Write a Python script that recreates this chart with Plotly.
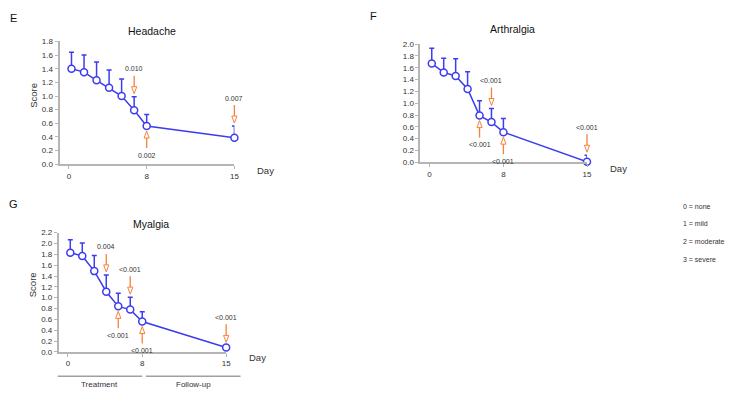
import plotly.graph_objects as go

W, H = 739, 394

# ---------------- data ----------------
visit_x = [1, 2, 3, 4, 5, 6, 7, 14]          # plotting positions of the 8 visits
tick_pos = [0.8, 7, 14]
tick_labels = ["0", "8", "15"]

headache_mean = [1.40, 1.35, 1.23, 1.12, 1.00, 0.79, 0.56, 0.39]
headache_top = [1.64, 1.60, 1.50, 1.38, 1.25, 0.99, 0.73, 0.56]
headache_arrows = [(5, "down", "0.010"), (6, "up", "0.002"), (7, "down", "0.007")]

arthralgia_mean = [1.67, 1.52, 1.46, 1.24, 0.79, 0.68, 0.51, 0.01]
arthralgia_top = [1.93, 1.76, 1.75, 1.53, 1.04, 0.91, 0.74, 0.12]
arthralgia_arrows = [(4, "up", "<0.001"), (5, "down", "<0.001"),
                     (6, "up", "<0.001"), (7, "down", "<0.001")]

myalgia_mean = [1.83, 1.77, 1.49, 1.11, 0.84, 0.78, 0.56, 0.08]
myalgia_top = [2.07, 2.01, 1.78, 1.42, 1.08, 1.01, 0.74, 0.12]
myalgia_arrows = [(3, "down", "0.004"), (4, "up", "<0.001"), (5, "down", "<0.001"),
                  (6, "up", "<0.001"), (7, "down", "<0.001")]

legend_lines = ["0 = none", "1 = mild", "2 = moderate", "3 = severe"]
phase_labels = [("Treatment", -0.05, 7.0), ("Follow-up", 7.3, 15.2)]

# ---------------- style ----------------
BLUE = "#3c3cf0"
ORANGE = "#f5823a"
AXIS = "#b5b5b5"
TXT = "#333333"
FONT = "Arial, Liberation Sans, sans-serif"
XRANGE = [0.05, 14]


def px(xp):
    return xp / W


def py(yp):
    return 1 - yp / H


panels = [
    dict(letter="E", title="Headache", mean=headache_mean, top=headache_top,
         arrows=headache_arrows, ax="", left=60, right=236, top_px=38.3, bot=164,
         ymax=1.8, score=True, letter_xy=(14, 14), title_y=28),
    dict(letter="F", title="Arthralgia", mean=arthralgia_mean, top=arthralgia_top,
         arrows=arthralgia_arrows, ax="2", left=423.3, right=591, top_px=41, bot=162,
         ymax=2.0, score=False, letter_xy=(376, 12), title_y=26),
    dict(letter="G", title="Myalgia", mean=myalgia_mean, top=myalgia_top,
         arrows=myalgia_arrows, ax="3", left=59.3, right=227.7, top_px=234, bot=356,
         ymax=2.2, score=True, letter_xy=(14, 205), title_y=225),
]


def to_paper(p, xv, yv):
    """map data coordinates of a panel to paper coordinates (same linear axes)."""
    x0, x1 = px(p["left"]), px(p["right"])
    y0, y1 = py(p["bot"]), py(p["top_px"])
    xp = x0 + (xv - XRANGE[0]) / (XRANGE[1] - XRANGE[0]) * (x1 - x0)
    yp = y0 + yv / p["ymax"] * (y1 - y0)
    return xp, yp


fig = go.Figure()
shapes = []
annotations = []
layout_axes = {}


def txt(x, y, text, size, color=TXT, **kw):
    d = dict(x=x, y=y, xref="paper", yref="paper", text=text, showarrow=False,
             xanchor="center", yanchor="middle",
             font=dict(size=size, color=color, family=FONT))
    d.update(kw)
    annotations.append(d)


for p in panels:
    xa = "x" + p["ax"]
    ya = "y" + p["ax"]
    err = [round(t - m, 3) for t, m in zip(p["top"], p["mean"])]
    fig.add_trace(go.Scatter(
        x=visit_x, y=p["mean"], xaxis=xa, yaxis=ya, mode="lines+markers",
        line=dict(color=BLUE, width=1.5),
        marker=dict(symbol="circle", size=7, color="white",
                    line=dict(color=BLUE, width=1.5)),
        error_y=dict(type="data", symmetric=False, array=err,
                     arrayminus=[0] * len(err), color=BLUE, thickness=1.5, width=2.5),
        cliponaxis=False, showlegend=False, hoverinfo="skip"))

    axis_common = dict(showline=True, linecolor=AXIS, linewidth=2, ticks="outside",
                       ticklen=3, tickcolor=AXIS, tickwidth=1, showgrid=False,
                       zeroline=False, tickfont=dict(size=8, color=TXT, family=FONT))
    layout_axes["xaxis" + p["ax"]] = dict(
        axis_common, domain=[px(p["left"]), px(p["right"])], anchor=ya,
        range=XRANGE, tickmode="array", tickvals=tick_pos, ticktext=tick_labels)
    layout_axes["yaxis" + p["ax"]] = dict(
        axis_common, domain=[py(p["bot"]), py(p["top_px"])], anchor=xa,
        range=[0, p["ymax"]], dtick=0.2, tick0=0, tickformat=".1f")

    # arrows with hollow heads
    for idx, direction, label in p["arrows"]:
        if direction == "down":
            anchor = p["top"][idx]
            tip, base, tail, lab = 3, 10, 21, 28
        else:
            anchor = p["mean"][idx]
            tip, base, tail, lab = -5, -12, -22, -29
        xp, yp = to_paper(p, visit_x[idx], anchor)
        common = dict(xref="paper", yref="paper", xsizemode="pixel", ysizemode="pixel",
                      xanchor=xp, yanchor=yp)
        shapes.append(dict(common, type="line", x0=0, x1=0, y0=base, y1=tail,
                           line=dict(color=ORANGE, width=1.3)))
        shapes.append(dict(common, type="path",
                           path=f"M -2.6,{base} L 2.6,{base} L 0,{tip} Z",
                           fillcolor="white", line=dict(color=ORANGE, width=1)))
        txt(xp, yp, label, 7, yshift=lab)

    # panel texts
    txt(px(p["left"] + 93), py(p["title_y"]), p["title"], 10.5, color="#111111")
    txt(px(p["letter_xy"][0]), py(p["letter_xy"][1]), p["letter"], 11,
        color="#111111")
    txt(px(p["right"] + 21), py(p["bot"] + 6), "Day", 9.5, xanchor="left")
    if p["score"]:
        txt(px(33), py((p["top_px"] + p["bot"]) / 2 - 8), "Score", 9.5,
            textangle=-90)

# Treatment / Follow-up brackets (panel G)
pg = panels[2]
for name, x0, x1 in phase_labels:
    xa0, _ = to_paper(pg, x0, 0)
    xa1, _ = to_paper(pg, x1, 0)
    shapes.append(dict(type="line", xref="paper", yref="paper", x0=xa0, x1=xa1,
                       y0=py(381), y1=py(381), line=dict(color="#a0a0a0", width=1.5)))
    txt((xa0 + xa1) / 2, py(389), name, 8)

# severity legend
for i, t in enumerate(legend_lines):
    txt(px(686), py(207 + 18 * i), t, 7, xanchor="left")

fig.update_layout(
    width=W, height=H, margin=dict(l=0, r=0, t=0, b=0),
    paper_bgcolor="white", plot_bgcolor="white",
    font=dict(family=FONT), shapes=shapes, annotations=annotations,
    **layout_axes)

fig.write_html("out.html", config={"displayModeBar": False},
               post_script="document.body.style.margin='0';")
